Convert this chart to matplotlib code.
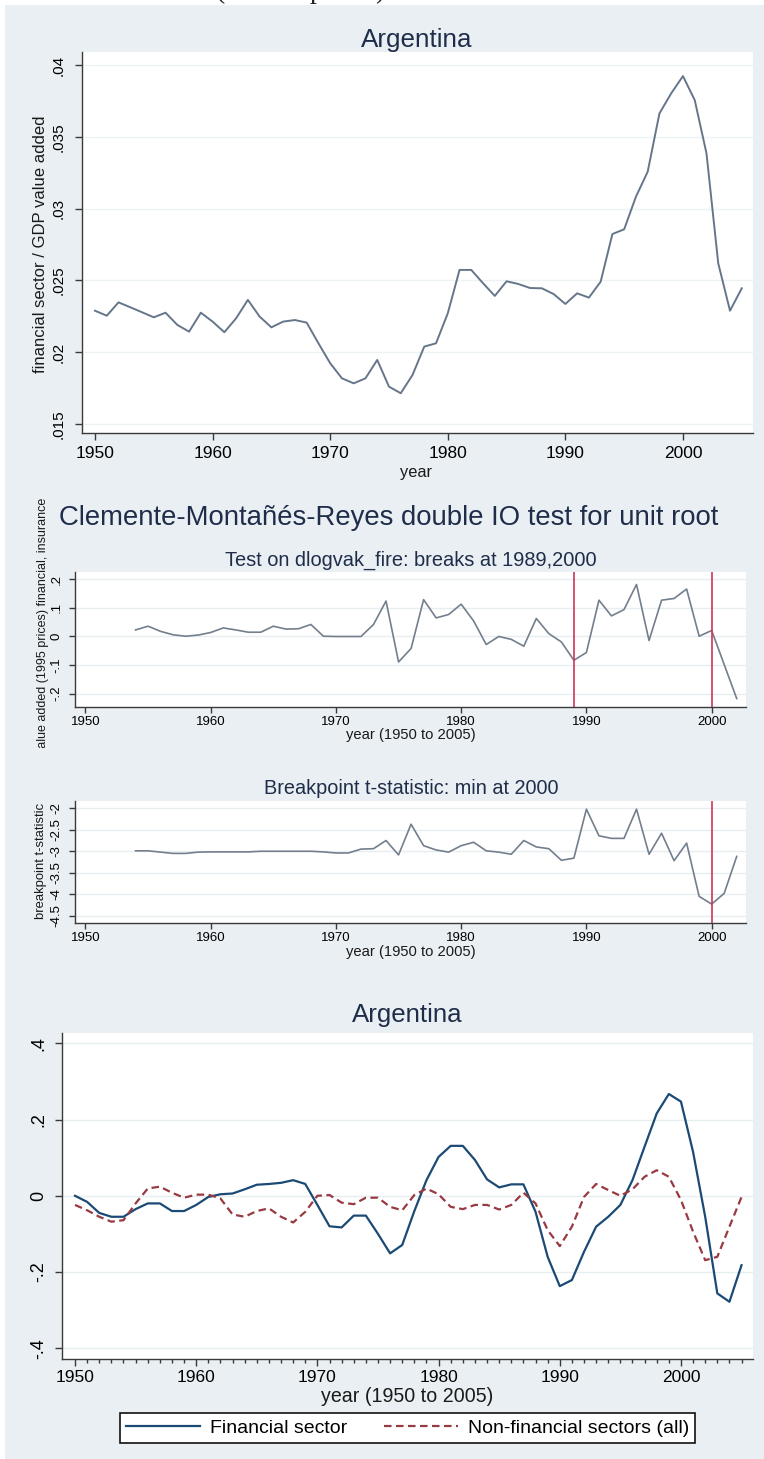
import matplotlib
matplotlib.use('Agg')
import matplotlib.pyplot as plt
from matplotlib.patches import Rectangle
import numpy as np

plt.rcParams['font.family'] = ['Liberation Sans', 'DejaVu Sans']

# ---- values ----
years = np.arange(1950, 2006)
fin_share = [0.02289, 0.02254, 0.02347, 0.02313, 0.02278, 0.02243, 0.02275, 0.02190, 0.02143, 0.02275,
             0.02213, 0.02139, 0.02236, 0.02364, 0.02248, 0.02173, 0.02213, 0.02224, 0.02206, 0.02062,
             0.01923, 0.01818, 0.01783, 0.01818, 0.01946, 0.01760, 0.01714, 0.01841, 0.02039, 0.02062,
             0.02271, 0.02573, 0.02573, 0.02480, 0.02392, 0.02494, 0.02475, 0.02447, 0.02445, 0.02405,
             0.02336, 0.02410, 0.02380, 0.02491, 0.02823, 0.02856, 0.03083, 0.03257, 0.03663, 0.03803,
             0.03923, 0.03756, 0.03385, 0.02619, 0.02289, 0.02445]

test_years = np.arange(1954, 2003)
dlogvak_fire = [0.023, 0.036, 0.018, 0.006, 0.001, 0.005, 0.014, 0.030, 0.023, 0.015,
                0.015, 0.036, 0.026, 0.027, 0.042, 0.001, 0.0, 0.0, 0.0, 0.042,
                0.124, -0.089, -0.042, 0.129, 0.065, 0.077, 0.113, 0.054, -0.028, 0.0,
                -0.010, -0.034, 0.063, 0.010, -0.019, -0.083, -0.056, 0.127, 0.072, 0.094,
                0.182, -0.014, 0.127, 0.133, 0.166, 0.001, 0.021, -0.098, -0.217]
break_tstat = [-2.99, -2.99, -3.02, -3.05, -3.05, -3.02, -3.015, -3.015, -3.015, -3.015,
               -3.0, -3.0, -3.0, -3.0, -3.0, -3.015, -3.04, -3.04, -2.95, -2.94,
               -2.75, -3.085, -2.37, -2.87, -2.97, -3.02, -2.87, -2.79, -2.99, -3.02,
               -3.07, -2.75, -2.90, -2.94, -3.21, -3.16, -2.02, -2.64, -2.70, -2.70,
               -2.02, -3.07, -2.58, -3.22, -2.81, -4.05, -4.23, -3.98, -3.12]
break_years = [1989, 2000]
min_break_year = 2000

fin_dev = [0.0, -0.016, -0.045, -0.055, -0.055, -0.035, -0.020, -0.020, -0.040, -0.040,
           -0.024, -0.003, 0.004, 0.006, 0.017, 0.029, 0.031, 0.034, 0.041, 0.031,
           -0.024, -0.080, -0.083, -0.052, -0.052, -0.100, -0.151, -0.129, -0.040, 0.041,
           0.102, 0.131, 0.131, 0.094, 0.043, 0.022, 0.030, 0.030, -0.042, -0.160,
           -0.237, -0.221, -0.147, -0.081, -0.055, -0.024, 0.041, 0.129, 0.216, 0.267,
           0.247, 0.115, -0.055, -0.256, -0.278, -0.182]
nonfin_dev = [-0.024, -0.038, -0.055, -0.068, -0.064, -0.020, 0.019, 0.024, 0.008, -0.005,
              0.003, 0.003, -0.007, -0.049, -0.055, -0.040, -0.033, -0.055, -0.070, -0.042,
              0.0, 0.002, -0.018, -0.022, -0.005, -0.005, -0.029, -0.038, 0.002, 0.019,
              0.004, -0.029, -0.035, -0.024, -0.024, -0.036, -0.024, 0.008, -0.020, -0.090,
              -0.132, -0.081, -0.003, 0.031, 0.015, 0.0, 0.017, 0.050, 0.067, 0.050,
              -0.011, -0.094, -0.169, -0.160, -0.081, -0.003]

decade_ticks = [1950, 1960, 1970, 1980, 1990, 2000]

W, H = 764, 1459
fig = plt.figure(figsize=(W / 100, H / 100), dpi=100)
fig.patch.set_facecolor('#e9eff2')
renderer = fig.canvas.get_renderer()


def fx(x):
    return x / W


def fy(y):
    return 1 - y / H


def box(left, top, right, bottom):
    return fig.add_axes([fx(left), fy(bottom), (right - left) / W, (bottom - top) / H])


def put(x, y, s, size, width=None, **kw):
    kw.setdefault('color', '#1a1a1a')
    t = fig.text(fx(x), fy(y), s, fontsize=size, ha='center', va='center', **kw)
    if width:
        bb = t.get_window_extent(renderer)
        t.set_fontsize(size * width / max(bb.width, bb.height))
    return t


def stata_axes(ax, xlim, ylim, yticks, ylabels, xsize, ysize, grid, xpad=3, ypad=6, tick=5):
    ax.set_facecolor('white')
    ax.set_xlim(xlim)
    ax.set_ylim(ylim)
    ax.spines[['top', 'right']].set_visible(False)
    for s in ['left', 'bottom']:
        ax.spines[s].set_color('#3a3a3a')
        ax.spines[s].set_linewidth(1.0)
    ax.set_xticks(decade_ticks)
    ax.set_xticklabels([str(y) for y in decade_ticks])
    ax.set_yticks(yticks)
    ax.set_yticklabels(ylabels, rotation=90, va='center')
    ax.tick_params(axis='x', labelsize=xsize, length=tick, width=1, color='#3a3a3a', pad=xpad)
    ax.tick_params(axis='y', labelsize=ysize, length=tick, width=1, color='#3a3a3a', pad=ypad)
    ax.grid(axis='y', color=grid, lw=1)
    ax.set_axisbelow(True)


# white paper strip above the graphs, with the foot of a line of text
fig.patches.append(Rectangle((0, fy(5)), 1, 1, transform=fig.transFigure, facecolor='white',
                             edgecolor='none', zorder=0))
fig.patches.append(Rectangle((0, 0), fx(5), 1, transform=fig.transFigure, facecolor='white',
                             edgecolor='none', zorder=0))
for gx, g in [(220, '('), (317, 'p'), (380, ')')]:
    fig.text(fx(gx), fy(-2), g, fontsize=20, family='Liberation Serif', ha='center',
             va='baseline', color='#222222')

# ---- panel 1: share of financial sector ----
ax1 = box(82.3, 51.7, 752.7, 433.3)
stata_axes(ax1, (1948.92, 2005.93), (0.01435, 0.04093),
           [0.015, 0.02, 0.025, 0.03, 0.035, 0.04], ['.015', '.02', '.025', '.03', '.035', '.04'],
           12.5, 11, '#edf2f4', xpad=4, ypad=7)
ax1.plot(years, fin_share, color='#66768a', lw=1.4)
put(417, 40, 'Argentina', 16, width=112, color='#1f2d4a')
put(41, 244, 'financial sector / GDP value added', 11, width=255, rotation=90)
put(416, 472, 'year', 12, width=32)

# ---- panel 2: Clemente-Montañés-Reyes test ----
put(389, 518, 'Clemente-Montañés-Reyes double IO test for unit root', 18, width=660, color='#1f2d4a')
put(411, 560, 'Test on dlogvak_fire: breaks at 1989,2000', 12, width=373, color='#1f2d4a')
ax2 = box(75.3, 571.7, 745.6, 706.7)
stata_axes(ax2, (1949.19, 2002.71), (-0.2455, 0.2266),
           [-0.2, -0.1, 0, 0.1, 0.2], ['-.2', '-.1', '0', '.1', '.2'],
           9.5, 9.5, '#e8edf0', xpad=3, ypad=5, tick=4)
ax2.plot(test_years, dlogvak_fire, color='#737f8c', lw=1.2)
for b in break_years:
    ax2.axvline(b, color='#cf3558', lw=1.2)
ylab = put(43, 626, 'value added (1995 prices) financial, insurance', 8, width=257, rotation=90)
ylab.set_clip_path(Rectangle((0, fy(748)), 1, 1, transform=fig.transFigure))
put(411, 735, 'year (1950 to 2005)', 9, width=129)

# ---- panel 3: breakpoint t-statistic ----
put(411, 788, 'Breakpoint t-statistic: min at 2000', 12, width=295, color='#1f2d4a')
ax3 = box(75.3, 801, 745.6, 922.7)
stata_axes(ax3, (1949.19, 2002.71), (-4.663, -1.83),
           [-4.5, -4, -3.5, -3, -2.5, -2], ['-4.5', '-4', '-3.5', '-3', '-2.5', '-2'],
           9.5, 9.5, '#e8edf0', xpad=3, ypad=5, tick=4)
ax3.plot(test_years, break_tstat, color='#737f8c', lw=1.2)
ax3.axvline(min_break_year, color='#cf3558', lw=1.2)
put(41, 861, 'breakpoint t-statistic', 8, width=117, rotation=90)
put(411, 952, 'year (1950 to 2005)', 9, width=129)

# ---- panel 4: deviations, financial vs non-financial ----
ax4 = box(62.3, 1032.7, 752.7, 1359.3)
stata_axes(ax4, (1948.95, 2005.92), (-0.4289, 0.4278),
           [-0.4, -0.2, 0, 0.2, 0.4], ['-.4', '-.2', '0', '.2', '.4'],
           12.5, 13, '#e6eef0', xpad=3, ypad=6)
ax4.set_xticks(years, minor=True)
ax4.tick_params(axis='x', which='minor', length=3, width=1, color='#3a3a3a')
ax4.plot(years, fin_dev, color='#1b4a74', lw=1.6, label='Financial sector')
ax4.plot(years, nonfin_dev, color='#983a41', lw=1.6, dashes=(3.4, 2),
         label='Non-financial sectors (all)')
put(407, 1015, 'Argentina', 16, width=111, color='#1f2d4a')
put(407, 1397, 'year (1950 to 2005)', 13, width=171)
leg = fig.legend(*ax4.get_legend_handles_labels(), loc='center', ncol=2,
                 bbox_to_anchor=(fx(407.5), fy(1428)), bbox_transform=fig.transFigure,
                 fontsize=14, frameon=True, fancybox=False, handlelength=3.8,
                 columnspacing=1.9, handletextpad=0.5, borderpad=0.3)
leg.get_frame().set_edgecolor('#111111')
leg.get_frame().set_linewidth(1.2)
leg.get_frame().set_alpha(1)

fig.savefig('out.png', dpi=100, facecolor=fig.get_facecolor())
